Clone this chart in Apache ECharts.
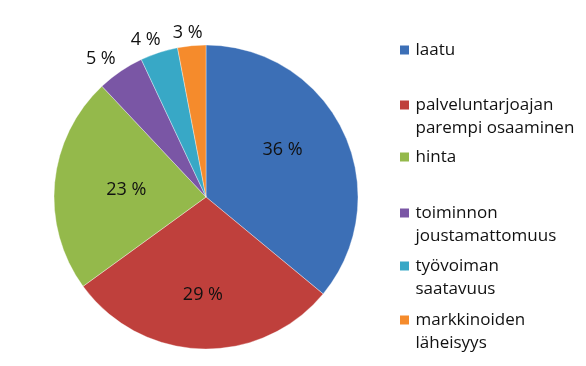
<!DOCTYPE html>
<html><head><meta charset="utf-8">
<script src="https://cdn.jsdelivr.net/npm/echarts@6/dist/echarts.min.js"></script>
<style>html,body{margin:0;padding:0;background:#fff}#c{width:586px;height:366px}</style>
</head><body><div id="c"></div>
<script>
const categories = ['laatu', 'palveluntarjoajan\nparempi osaaminen', 'hinta', 'toiminnon\njoustamattomuus', 'työvoiman\nsaatavuus', 'markkinoiden\nläheisyys'];
const values = [36, 29, 23, 5, 4, 3];
const colors = ['#3C6FB6', '#BF403C', '#94B94B', '#7A56A5', '#38A8C6', '#F58B2C'];
// style: legend icon centre y, label distance from pie centre, label angular shift (deg, ccw)
const legendIconY = [50, 105, 157, 213, 266, 320];
const labelRadius = [87, 95, 77, 171, 165, 162];
const labelShift = [6.5, 0, 0, 3, 3, 1];

const F = '"Open Sans", sans-serif';
const LH = 23;
const CX = 206, CY = 197, R = 152;

const chart = echarts.init(document.getElementById('c'), null, {renderer: 'canvas'});
const mainData = categories.map((n, i) => ({name: n, value: values[i], itemStyle: {color: colors[i]}}));

const labelSeries = categories.map((_, k) => {
  const d = labelRadius[k];
  const radius = d < R ? [0, 2 * d] : [d - 20, d + 20];
  return {
    type: 'pie', center: [CX, CY], radius: radius, startAngle: 90 + labelShift[k], clockwise: true,
    silent: true, legendHoverLink: false, z: 5,
    itemStyle: {color: 'rgba(0,0,0,0)', borderWidth: 0},
    label: {position: 'inside', formatter: p => p.value + ' %', fontFamily: F, fontSize: 18, color: '#111'},
    labelLine: {show: false},
    emphasis: {disabled: true},
    data: categories.map((n, i) => ({name: n, value: values[i], label: {show: i === k}}))
  };
});

chart.setOption({
  animation: false,
  legend: categories.map((name, i) => {
    const lines = name.split('\n').length;
    return {
      data: [name], orient: 'vertical', left: 400, top: legendIconY[i] - LH / 2 - (lines - 1) * LH,
      padding: 0, itemWidth: 12, itemHeight: 9, itemGap: 0, icon: 'path://M0,0h9v9h-9z', symbolKeepAspect: true,
      selectedMode: false,
      itemStyle: {borderWidth: 0},
      formatter: n => '\n'.repeat(lines - 1) + n,
      textStyle: {fontFamily: F, fontSize: 17, color: '#111', lineHeight: LH}
    };
  }),
  series: [
    {
      type: 'pie', center: [CX, CY], radius: [0, R], startAngle: 90, clockwise: true,
      data: mainData,
      itemStyle: {borderColor: 'rgba(255,255,255,0.35)', borderWidth: 1},
      label: {show: false},
      labelLine: {show: false},
      emphasis: {disabled: true}
    }
  ].concat(labelSeries)
});
</script>
</body></html>
